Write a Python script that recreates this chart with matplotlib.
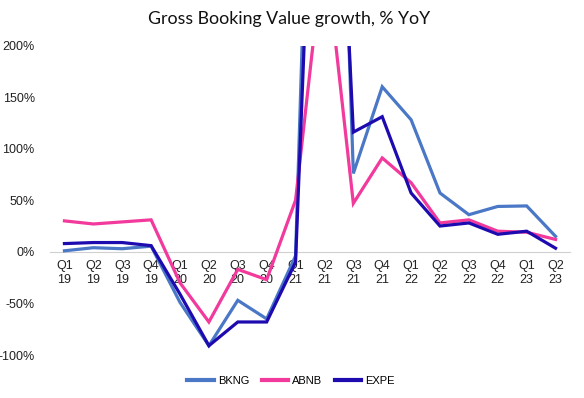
import matplotlib
matplotlib.use("Agg")
import matplotlib.pyplot as plt
from matplotlib.ticker import FuncFormatter

quarters = ["Q1\n19", "Q2\n19", "Q3\n19", "Q4\n19",
            "Q1\n20", "Q2\n20", "Q3\n20", "Q4\n20",
            "Q1\n21", "Q2\n21", "Q3\n21", "Q4\n21",
            "Q1\n22", "Q2\n22", "Q3\n22", "Q4\n22",
            "Q1\n23", "Q2\n23"]
bkng = [1, 4, 3, 5.5, -49, -91, -47, -65, -4, 900, 76, 160, 128, 57, 36, 44, 44.5, 15]
abnb = [30, 27, 29, 31, -30, -68, -17, -27, 50, 300, 47, 91, 67, 28, 31, 20, 19, 12]
expe = [8, 9, 9, 6, -41, -91, -68, -68, -10, 700, 116, 131, 57, 25, 28, 17, 20, 3.5]
series_names = ["BKNG", "ABNB", "EXPE"]
colors = ["#4A78C6", "#F2399C", "#1E0BB0"]

plt.rcParams['font.family'] = ['Liberation Sans', 'DejaVu Sans']

fig = plt.figure(figsize=(5.84, 3.98), dpi=100)
ax = fig.add_axes([50/584, 1-355/398, 520/584, (355-45.5)/398])

x = list(range(len(quarters)))
for vals, name, c in zip([bkng, abnb, expe], series_names, colors):
    ax.plot(x, vals, color=c, lw=2.3, label=name, solid_joinstyle='miter')

ax.set_xlim(-0.5, len(quarters) - 0.5)
ax.set_ylim(-100, 200)
ax.set_yticks([-100, -50, 0, 50, 100, 150, 200])
ax.yaxis.set_major_formatter(FuncFormatter(lambda v, p: f"{v:.0f}%"))
ax.set_xticks(x)
ax.set_xticklabels(quarters, linespacing=1.45)

for s in ["top", "right", "left"]:
    ax.spines[s].set_visible(False)
ax.spines["bottom"].set_position(("data", 0))
ax.spines["bottom"].set_color("#D0D0D0")
ax.spines["bottom"].set_linewidth(0.8)
ax.spines["bottom"].set_zorder(0)
ax.tick_params(axis="both", length=0, labelsize=9, colors="#222222")
ax.tick_params(axis="x", pad=6)
ax.tick_params(axis="y", pad=11)

fig.text(289.5/584, 1-19/398, "Gross Booking Value growth, % YoY", ha="center", va="center",
         fontsize=12.8, family=['Lato', 'DejaVu Sans'], color="#111111")

leg = fig.legend(loc="center", bbox_to_anchor=(291/584, 1-381/398), ncol=3, frameon=False,
                 fontsize=8, handlelength=2.4, handletextpad=0.35, columnspacing=1.1)
for h in leg.get_lines():
    h.set_linewidth(3)

fig.savefig("out.png", dpi=100)
